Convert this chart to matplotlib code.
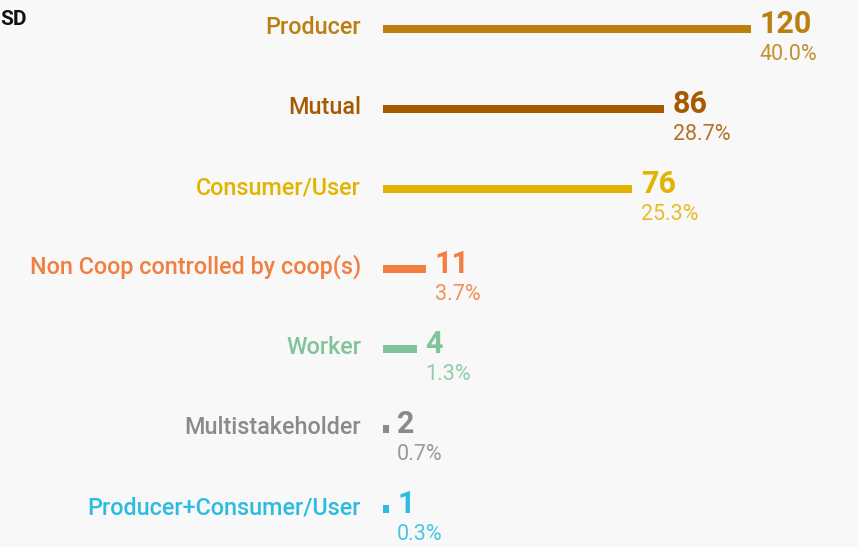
import numpy as np
import matplotlib.pyplot as plt

# categories, counts and share of total
categories = ['Producer', 'Mutual', 'Consumer/User', 'Non Coop controlled by coop(s)',
              'Worker', 'Multistakeholder', 'Producer+Consumer/User']
counts = [120, 86, 76, 11, 4, 2, 1]
shares = ['40.0%', '28.7%', '25.3%', '3.7%', '1.3%', '0.7%', '0.3%']
# bar length (relative, Producer = 100)
bar_size = [100, 76.4, 67.7, 11.7, 9.2, 1.5, 1.5]
colors = ['#BA7F0F', '#A65A00', '#E2B400', '#F07F40', '#80C49A', '#8A8A8A', '#2CBCE0']

W, H = 858, 547
px_per_unit = 3.68
x0 = 383            # pixel where bars start
row_h = 80
y_first = 28.5

fig = plt.figure(figsize=(W / 100, H / 100), dpi=100, facecolor='#F8F8F8')
ax = fig.add_axes([0, 0, 1, 1])
ax.set_facecolor('#F8F8F8')
ax.set_xlim(-x0 / px_per_unit, (W - x0) / px_per_unit)
ax.set_ylim((H - y_first) / row_h, -y_first / row_h)
ax.axis('off')

font = 'Roboto'
y = np.arange(len(categories))
ax.barh(y, bar_size, height=8 / row_h, color=colors, left=0)

for i in range(len(categories)):
    c = colors[i]
    ax.text(-22 / px_per_unit, y[i] + 5.5 / row_h, categories[i], ha='right', va='baseline',
            color=c, fontsize=16.8, fontweight='medium', family=font)
    xv = bar_size[i] + 8.5 / px_per_unit
    ax.text(xv, y[i] + 4.5 / row_h, str(counts[i]), ha='left', va='baseline',
            color=c, fontsize=22, fontweight='bold', family=font)
    ax.text(xv, y[i] + 31.5 / row_h, shares[i], ha='left', va='baseline',
            color=c, alpha=0.85, fontsize=15.5, fontweight='normal', family=font)

# title fragment at the top-left corner
fig.text(0, 1 - 25 / H, 'SD', ha='left', va='baseline', color='#111111',
         fontsize=15, fontweight='bold', family=font)

fig.savefig('out.png', dpi=100, facecolor=fig.get_facecolor())
